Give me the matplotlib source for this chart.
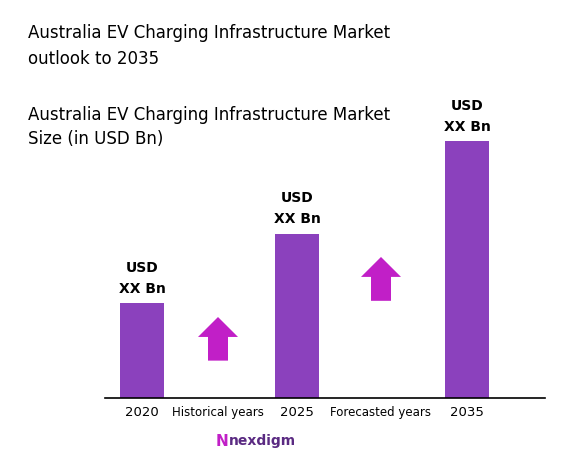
import matplotlib.pyplot as plt
from matplotlib.patches import FancyArrow

years = ["2020", "2025", "2035"]
sizes = [3.8, 6.6, 10.3]
bar_x = [142, 297, 467]
value_labels = ["USD\nXX Bn", "USD\nXX Bn", "USD\nXX Bn"]
gap_labels = ["Historical years", "Forecasted years"]
gap_x = [218, 381]
arrow_from = [1.5, 3.9]
arrow_to = [3.25, 5.66]

W, H = 562, 464
fig = plt.figure(figsize=(W / 100, H / 100), dpi=100)
fig.patch.set_facecolor("white")

# axes: baseline at 399 px, top of scale at 100 px
ax = fig.add_axes([0, (H - 399) / H, 1, 299 / H])
ax.set_xlim(0, W)
ax.set_ylim(0, 12)
ax.axis("off")

ax.bar(bar_x, sizes, width=44, color="#8b41bd")
for x, v, lab in zip(bar_x, sizes, value_labels):
    ax.text(x, v + 0.35, lab, ha="center", va="bottom", fontsize=10,
            fontweight="bold", linespacing=1.6)

for x, y0, y1 in zip(gap_x, arrow_from, arrow_to):
    ax.add_patch(FancyArrow(x, y0, 0, y1 - y0, width=20, head_width=40,
                            head_length=0.8, length_includes_head=True,
                            color="#c11fc7", lw=0))

ax.plot([105, 545], [0, 0], color="black", lw=1.2, clip_on=False)

for x, y in zip(bar_x, years):
    fig.text(x / W, 1 - 413 / H, y, ha="center", va="center", fontsize=9.5)
for x, t in zip(gap_x, gap_labels):
    fig.text(x / W, 1 - 413 / H, t, ha="center", va="center", fontsize=8.5)

fig.text(28 / W, 1 - 46 / H,
         "Australia EV Charging Infrastructure Market\noutlook to 2035",
         ha="left", va="center", fontsize=12, linespacing=1.5)
fig.text(28 / W, 1 - 127 / H,
         "Australia EV Charging Infrastructure Market\nSize (in USD Bn)",
         ha="left", va="center", fontsize=12, linespacing=1.5)

fig.text(222 / W, 1 - 441 / H, "N", ha="center", va="center", fontsize=11,
         color="#c11fc7", fontweight="bold")
fig.text(262 / W, 1 - 441 / H, "nexdigm", ha="center", va="center",
         fontsize=10, color="#5a2a82", fontweight="bold")

fig.savefig("out.png", dpi=100)
